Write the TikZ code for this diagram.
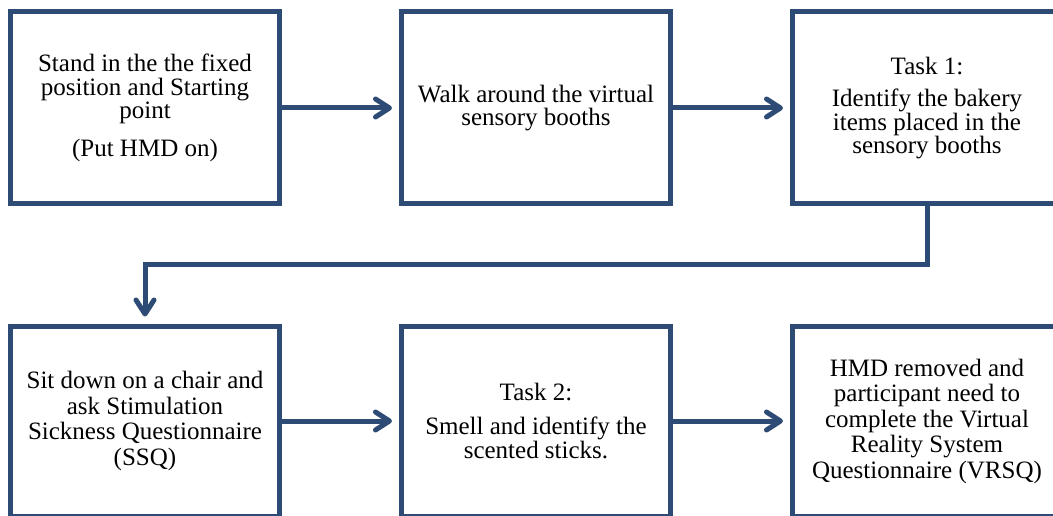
\documentclass[tikz,border=0pt]{standalone}
\usepackage{fontspec}
\setmainfont{Liberation Serif}
\usetikzlibrary{arrows.meta}
\definecolor{navy}{RGB}{46,75,117}
\begin{document}
\begin{tikzpicture}[x=1pt,y=-1pt,
  box/.style={draw=navy, line width=5pt, minimum width=269pt, inner sep=0pt,
    align=center, text=black, font=\fontsize{25}{23.5}\selectfont},
  toprow/.style={box, minimum height=192pt},
  botrow/.style={box, minimum height=190pt},
  flow/.style={draw=navy, line width=5pt,
    -{Straight Barb[length=14pt,width=18pt,line cap=round,line join=round]},
    shorten >=7pt}]
\useasboundingbox (0,0) rectangle (1053,516);
\fill[white] (0,0) rectangle (1053,516);
\node[toprow] (b1) at (145,108) {Stand in the the fixed\\position and Starting\\point\\[14pt](Put HMD on)};
\node[toprow] (b2) at (536,108) {Walk around the virtual\\sensory booths};
\node[toprow] (b3) at (927,108) {Task 1:\\[9pt]Identify the bakery\\items placed in the\\sensory booths};
\node[botrow, font=\fontsize{25}{25.5}\selectfont] (b4) at (145,421) {Sit down on a chair and\\ask Stimulation\\Sickness Questionnaire\\(SSQ)};
\node[botrow] (b5) at (536,421) {Task 2:\\[11pt]Smell and identify the\\scented sticks.};
\node[botrow, font=\fontsize{25}{25.5}\selectfont] (b6) at (927,421) {HMD removed and\\participant need to\\complete the Virtual\\Reality System\\Questionnaire (VRSQ)};
\coordinate (mid) at (536,264);
\draw[flow] (b1.east) -- (b2.west);
\draw[flow] (b2.east) -- (b3.west);
\draw[flow] (b3.south) |- (mid) -| (b4.north);
\draw[flow] (b4.east) -- (b5.west);
\draw[flow] (b5.east) -- (b6.west);
\end{tikzpicture}
\end{document}
